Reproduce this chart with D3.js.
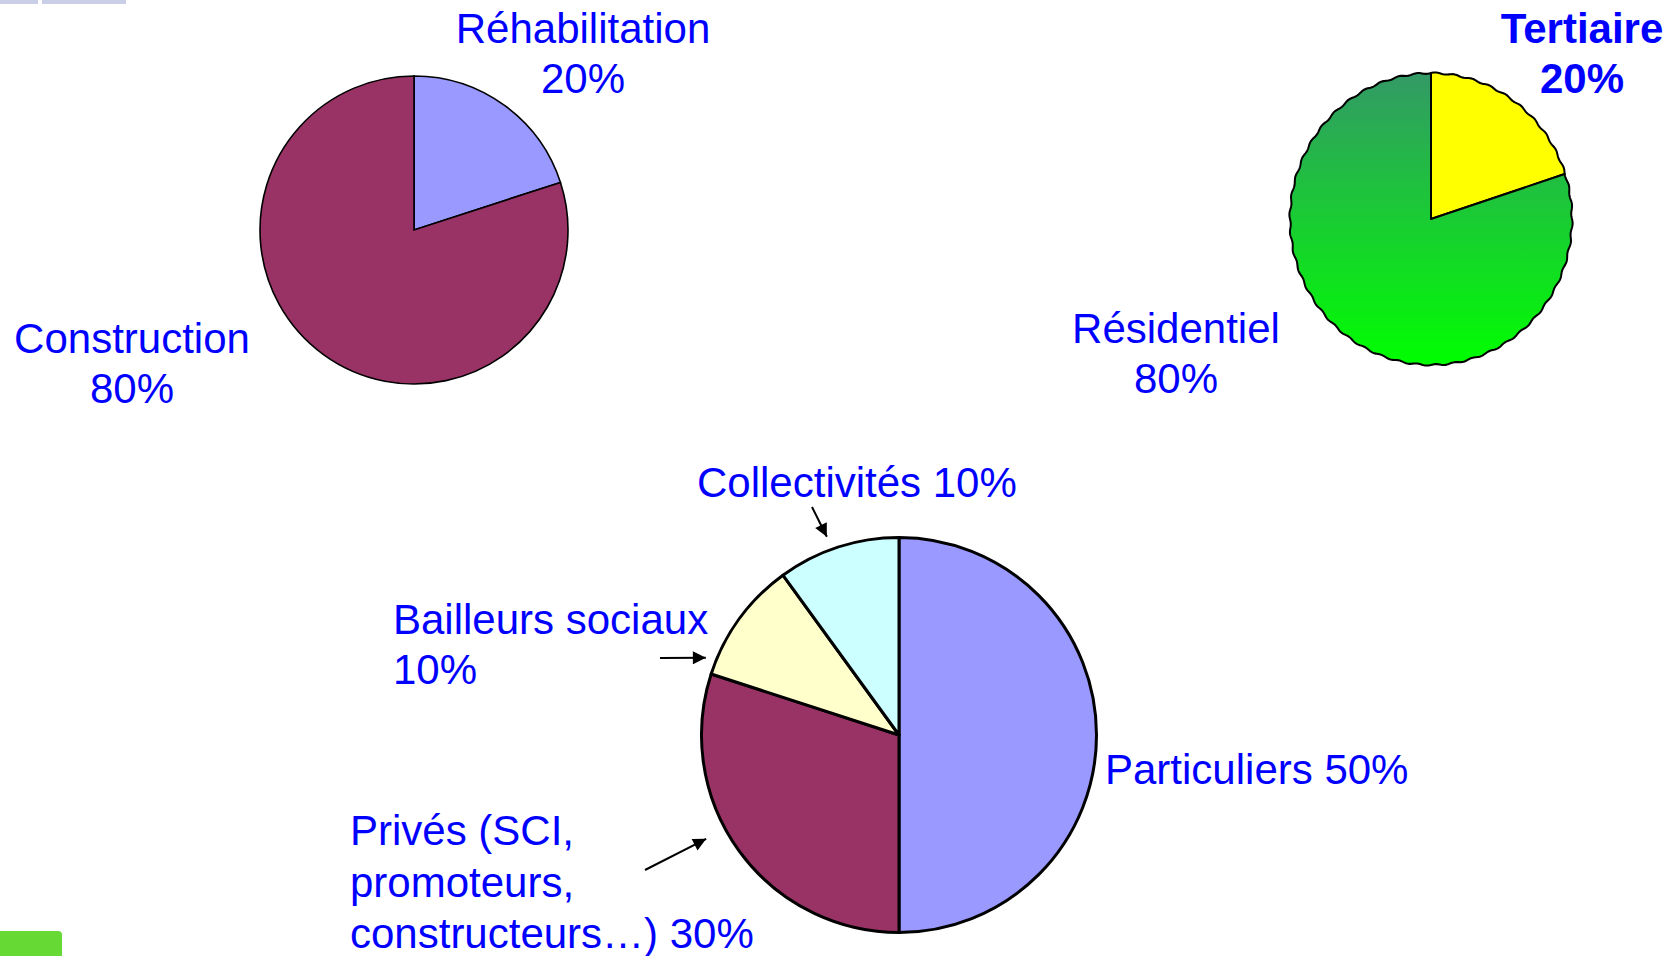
<!DOCTYPE html>
<html lang="fr">
<head>
    <meta charset="utf-8">
    <title>Répartition du marché</title>
    <script src="https://cdn.jsdelivr.net/npm/d3@7"></script>
    <style>
        html, body { margin: 0; padding: 0; background: #fff; }
        svg { display: block; }
        .lbl { font-family: "Liberation Sans", Arial, sans-serif; font-size: 42px; fill: #0000ff; }
    </style>
</head>
<body>
    <div id="chart"></div>
    <script>
        // --- données ---
        const typeLabels = ["Réhabilitation", "Construction"];
        const typeValues = [20, 80];
        const typeColors = ["#9999ff", "#993366"];

        const secteurLabels = ["Tertiaire", "Résidentiel"];
        const secteurValues = [20, 80];

        const clientLabels = ["Particuliers", "Privés (SCI, promoteurs, constructeurs…)", "Bailleurs sociaux", "Collectivités"];
        const clientValues = [50, 30, 10, 10];
        const clientColors = ["#9999ff", "#993366", "#ffffcc", "#ccffff"];

        const width = 1671, height = 956;
        const pct = v => v + "%";

        const svg = d3.select("#chart").append("svg")
            .attr("width", width)
            .attr("height", height);

        const defs = svg.append("defs");

        // gradient vert du camembert "secteur"
        const grad = defs.append("linearGradient")
            .attr("id", "vert")
            .attr("x1", 0).attr("y1", 0).attr("x2", 0).attr("y2", 1);
        grad.append("stop").attr("offset", "0%").attr("stop-color", "#339966");
        grad.append("stop").attr("offset", "100%").attr("stop-color", "#00ff00");

        defs.append("marker")
            .attr("id", "fleche")
            .attr("viewBox", "0 0 10 10")
            .attr("refX", 10).attr("refY", 5)
            .attr("markerWidth", 15).attr("markerHeight", 13)
            .attr("markerUnits", "userSpaceOnUse")
            .attr("orient", "auto")
            .append("path")
            .attr("d", "M0,0 L10,5 L0,10 z")
            .attr("fill", "#000");

        // décor : restes du logo en haut et bandeau vert en bas
        svg.append("rect").attr("x", 0).attr("y", 0).attr("width", 38).attr("height", 4)
            .attr("fill", "#8a92c8").attr("opacity", 0.45);
        svg.append("rect").attr("x", 42).attr("y", 0).attr("width", 84).attr("height", 4)
            .attr("fill", "#8a92c8").attr("opacity", 0.45);
        svg.append("rect").attr("x", -6).attr("y", 931).attr("width", 68).attr("height", 40)
            .attr("rx", 4).attr("fill", "#66d935");

        const pie = d3.pie().sort(null).value(d => d.value);

        // ---------- camembert 1 : réhabilitation / construction ----------
        const typeData = typeLabels.map((l, i) => ({ label: l, value: typeValues[i], color: typeColors[i] }));
        const arc1 = d3.arc().innerRadius(0).outerRadius(154);
        const g1 = svg.append("g").attr("transform", "translate(414,230)");
        g1.selectAll("path")
            .data(pie(typeData))
            .enter().append("path")
            .attr("d", arc1)
            .attr("fill", d => d.data.color)
            .attr("stroke", "#000")
            .attr("stroke-width", 1.6);

        // ---------- camembert 2 : tertiaire / résidentiel (bord ondulé) ----------
        const secteurData = secteurLabels.map((l, i) => ({ label: l, value: secteurValues[i] }));
        const R2 = 141;
        const wave = d3.lineRadial()
            .angle(d => d[0])
            .radius(d => d[1])
            .curve(d3.curveLinearClosed);
        function wavySlice(d) {
            const pts = [[d.startAngle, 0]];
            const n = Math.max(2, Math.ceil((d.endAngle - d.startAngle) / 0.008));
            for (let k = 0; k <= n; k++) {
                const a = d.startAngle + (d.endAngle - d.startAngle) * k / n;
                pts.push([a, R2 + 0.7 * Math.sin(a * 48)]);
            }
            return wave(pts);
        }
        const g2 = svg.append("g").attr("transform", "translate(1431,219) scale(1,1.035)");
        g2.selectAll("path")
            .data(pie(secteurData))
            .enter().append("path")
            .attr("d", wavySlice)
            .attr("fill", (d, i) => i === 0 ? "#ffff00" : "url(#vert)")
            .attr("stroke", "#000")
            .attr("stroke-width", 2)
            .attr("stroke-linejoin", "round");

        // ---------- camembert 3 : clientèle ----------
        const clientData = clientLabels.map((l, i) => ({ label: l, value: clientValues[i], color: clientColors[i] }));
        const arc3 = d3.arc().innerRadius(0).outerRadius(197.5);
        const c3 = [899, 735];
        const g3 = svg.append("g").attr("transform", `translate(${c3[0]},${c3[1]})`);
        g3.selectAll("path")
            .data(pie(clientData))
            .enter().append("path")
            .attr("d", arc3)
            .attr("fill", d => d.data.color)
            .attr("stroke", "#000")
            .attr("stroke-width", 3)
            .attr("stroke-linejoin", "round");

        // ---------- étiquettes ----------
        function label(x, y, lines, anchor, bold, lh) {
            const t = svg.append("text")
                .attr("class", "lbl")
                .attr("x", x).attr("y", y)
                .attr("text-anchor", anchor)
                .style("font-weight", bold ? "bold" : "normal");
            lines.forEach((s, i) => {
                t.append("tspan").attr("x", x).attr("dy", i === 0 ? 0 : (lh || 50)).text(s);
            });
        }

        label(583, 43, [typeLabels[0], pct(typeValues[0])], "middle");
        label(132, 353, [typeLabels[1], pct(typeValues[1])], "middle");
        label(1582, 43, [secteurLabels[0], pct(secteurValues[0])], "middle", true);
        label(1176, 343, [secteurLabels[1], pct(secteurValues[1])], "middle");

        label(1105, 784, [clientLabels[0] + " " + pct(clientValues[0])], "start");
        label(350, 845, ["Privés (SCI,", "promoteurs,", "constructeurs…) " + pct(clientValues[1])], "start", false, 51.5);
        label(393, 634, [clientLabels[2], pct(clientValues[2])], "start");
        label(697, 497, [clientLabels[3] + " " + pct(clientValues[3])], "start");

        // flèches (pointe placée en polaire autour du camembert 3)
        const fleches = [
            { from: [812, 507], angle: 340, r: 211 },   // Collectivités
            { from: [660, 658], angle: 291.8, r: 208 }, // Bailleurs sociaux
            { from: [645, 870], angle: 241.7, r: 219 }  // Privés
        ];
        fleches.forEach(f => {
            const a = f.angle * Math.PI / 180;
            const tip = [c3[0] + f.r * Math.sin(a), c3[1] - f.r * Math.cos(a)];
            svg.append("line")
                .attr("x1", f.from[0]).attr("y1", f.from[1])
                .attr("x2", tip[0]).attr("y2", tip[1])
                .attr("stroke", "#000")
                .attr("stroke-width", 2)
                .attr("marker-end", "url(#fleche)");
        });
    </script>
</body>
</html>
